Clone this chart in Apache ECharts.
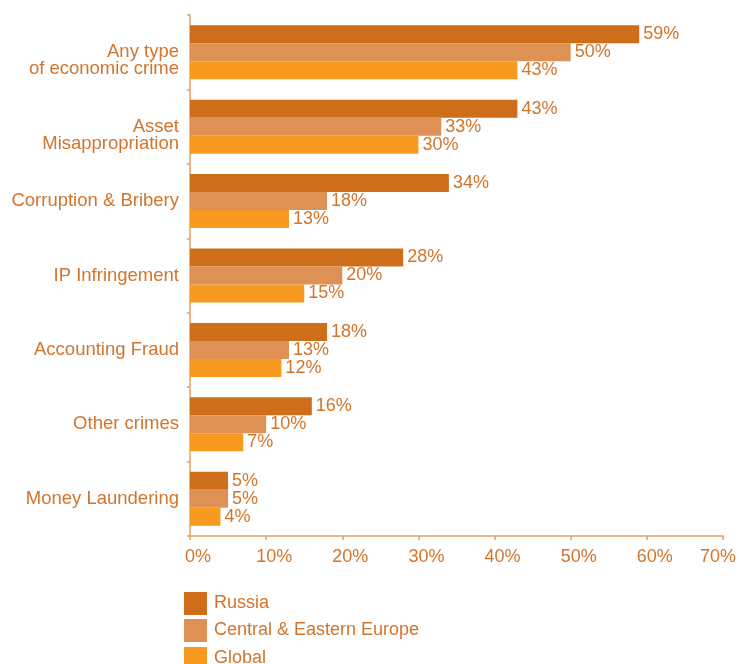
<!DOCTYPE html>
<html>
<head>
<meta charset="utf-8">
<style>
  html, body { margin: 0; padding: 0; background: #ffffff; }
  #chart { width: 739px; height: 664px; }
</style>
<script src="https://cdn.jsdelivr.net/npm/echarts@6/dist/echarts.min.js"></script>
</head>
<body>
<div id="chart"></div>
<script>
// Types of economic crime reported, share of respondents (%)
const categories = [
  'Any type\nof economic crime',
  'Asset\nMisappropriation',
  'Corruption & Bribery',
  'IP Infringement',
  'Accounting Fraud',
  'Other crimes',
  'Money Laundering'
];
const seriesNames = ['Russia', 'Central & Eastern Europe', 'Global'];
const russia = [59, 43, 34, 28, 18, 16, 5];
const cee    = [50, 33, 18, 20, 13, 10, 5];
const global = [43, 30, 13, 15, 12, 7, 4];
const xTicks = { min: 0, max: 70, step: 10 };

const FONT = '"Liberation Sans", Arial, Helvetica, sans-serif';
const TEXT = '#D3742C';
const AXIS = '#E4A062';
const COLORS = ['#CF6E1A', '#DE9155', '#F89A1F'];

const chart = echarts.init(document.getElementById('chart'), null, { renderer: 'canvas' });

const valueLabel = {
  show: true,
  position: 'right',
  distance: 4,
  formatter: '{c}%',
  color: TEXT,
  fontSize: 18,
  fontFamily: FONT
};

function barSeries(name, values, color) {
  return {
    name: name,
    type: 'bar',
    data: values,
    barWidth: 18,
    barGap: '0%',
    itemStyle: { color: color },
    label: valueLabel,
    emphasis: { disabled: true },
    animation: false
  };
}

// one legend block per series, stacked under the axis
const legendTops = [592, 619, 647];
const legends = seriesNames.map(function (name, i) {
  return {
    orient: 'vertical',
    left: 184,
    top: legendTops[i],
    padding: 0,
    itemWidth: 23,
    itemHeight: 23,
    icon: 'rect',
    selectedMode: false,
    data: [name],
    textStyle: { color: TEXT, fontSize: 18, fontFamily: FONT, padding: [0, 0, 0, 2] }
  };
});

chart.setOption({
  backgroundColor: '#ffffff',
  animation: false,
  textStyle: { fontFamily: FONT },
  grid: { left: 190, right: 14, top: 15, bottom: 128, containLabel: false },
  legend: legends,
  xAxis: {
    type: 'value',
    min: xTicks.min,
    max: xTicks.max,
    interval: xTicks.step,
    splitLine: { show: false },
    axisLine: { show: true, lineStyle: { color: AXIS, width: 1.5 } },
    axisTick: { show: true, length: 4, lineStyle: { color: AXIS, width: 1.5 } },
    axisLabel: {
      margin: 12,
      color: TEXT,
      fontSize: 18,
      fontFamily: FONT,
      formatter: function (v) {
        return v === xTicks.max ? '{e|' + v + '%}' : '{n|' + v + '%}';
      },
      rich: {
        n: { color: TEXT, fontSize: 18, fontFamily: FONT, padding: [0, 0, 0, 16] },
        e: { color: TEXT, fontSize: 18, fontFamily: FONT, padding: [0, 10, 0, 0] }
      }
    }
  },
  yAxis: {
    type: 'category',
    inverse: true,
    data: categories,
    axisLine: { show: true, lineStyle: { color: AXIS, width: 1.5 } },
    axisTick: { show: true, length: 3, interval: 0, lineStyle: { color: AXIS, width: 1.5 } },
    axisLabel: {
      interval: 0,
      margin: 11,
      color: TEXT,
      fontSize: 18.5,
      lineHeight: 17,
      fontFamily: FONT,
      align: 'right',
      // two-line names hang from the band centre: their first line sits on it
      formatter: function (v) {
        return v.indexOf('\n') >= 0 ? '\n' + v : v;
      }
    }
  },
  series: [
    barSeries(seriesNames[0], russia, COLORS[0]),
    barSeries(seriesNames[1], cee, COLORS[1]),
    barSeries(seriesNames[2], global, COLORS[2])
  ]
});
</script>
</body>
</html>
